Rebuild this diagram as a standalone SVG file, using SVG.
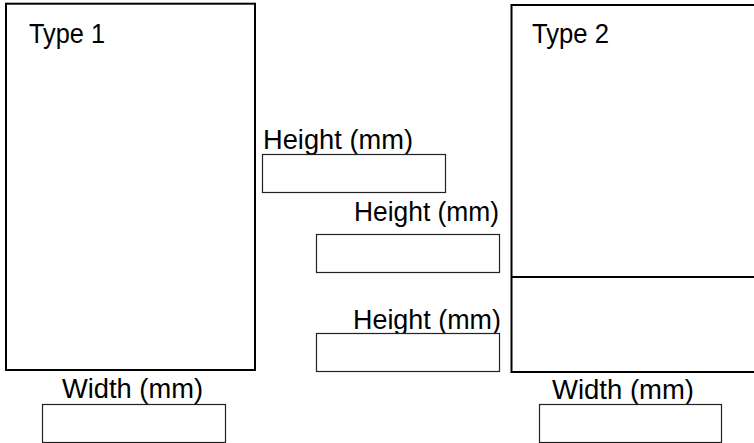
<svg xmlns="http://www.w3.org/2000/svg" width="754" height="443" viewBox="0 0 754 443">
<style>
.big{fill:#fff;stroke:#000;stroke-width:2}
.box{fill:#fff;stroke:#222;stroke-width:1.2}
.lbl{font-family:"Liberation Sans",Arial,sans-serif;font-size:27px;fill:#000}
</style>
<rect width="754" height="443" fill="#fff"/>
<g id="type1">
<rect class="big" x="6" y="3.7" width="249" height="366.3"/>
<text class="lbl" x="29" y="43" textLength="76" lengthAdjust="spacingAndGlyphs">Type 1</text>
</g>
<g id="type2">
<rect class="big" x="511.5" y="5" width="260" height="367"/>
<line x1="511.5" y1="277" x2="754" y2="277" stroke="#000" stroke-width="2"/>
<text class="lbl" x="532" y="43" textLength="77" lengthAdjust="spacingAndGlyphs">Type 2</text>
</g>
<g id="height1">
<text class="lbl" x="263" y="149" textLength="150" lengthAdjust="spacingAndGlyphs">Height (mm)</text>
<rect class="box" x="262.5" y="154.5" width="183" height="38"/>
</g>
<g id="height2">
<text class="lbl" x="354" y="221" textLength="145" lengthAdjust="spacingAndGlyphs">Height (mm)</text>
<rect class="box" x="316.5" y="234.5" width="183" height="38"/>
</g>
<g id="height3">
<text class="lbl" x="353" y="329" textLength="148" lengthAdjust="spacingAndGlyphs">Height (mm)</text>
<rect class="box" x="316.5" y="333.5" width="183" height="38"/>
</g>
<g id="width1">
<text class="lbl" x="62" y="398" textLength="141" lengthAdjust="spacingAndGlyphs">Width (mm)</text>
<rect class="box" x="42.5" y="404.5" width="183" height="38"/>
</g>
<g id="width2">
<text class="lbl" x="552" y="399" textLength="142" lengthAdjust="spacingAndGlyphs">Width (mm)</text>
<rect class="box" x="539.5" y="404.5" width="182" height="38"/>
</g>
<g id="connectors"></g>
</svg>
